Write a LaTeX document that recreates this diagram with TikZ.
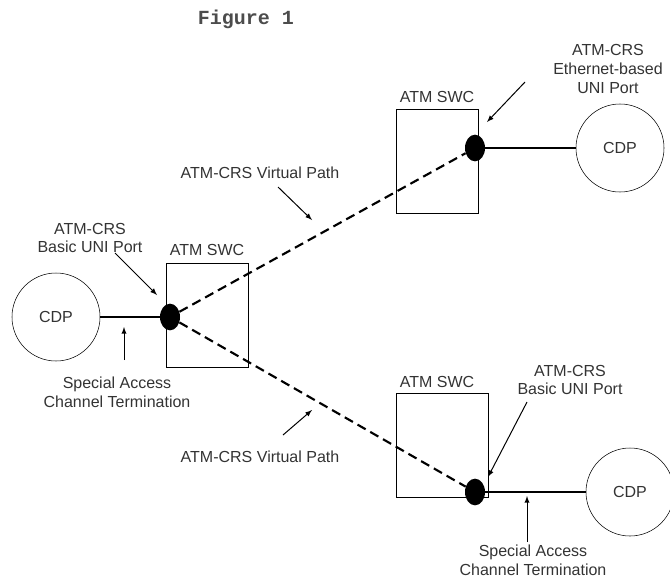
\documentclass[tikz,border=0pt]{standalone}
\usepackage{fontspec}
\setmainfont{Liberation Sans}
\setmonofont{Liberation Mono}
\usetikzlibrary{shapes.geometric}

\begin{document}
\begin{tikzpicture}[x=0.75pt, y=-0.75pt,
  every node/.style={font=\fontsize{12}{14}\selectfont, text=black!80},
  cdp/.style={draw, circle, minimum size=66pt, inner sep=0pt},
  swc/.style={draw, line width=0.6pt, minimum width=62pt, minimum height=78pt},
  port/.style={ellipse, fill=black, minimum width=15pt, minimum height=20pt, inner sep=0pt},
  lbl/.style={align=center},
  link/.style={line width=1.6pt},
  vpath/.style={line width=1.6pt, dash pattern=on 7pt off 4pt},
  callout/.style={-latex, line width=0.75pt}]
  \useasboundingbox (0,0) rectangle (670,582);

  \node[font=\fontsize{15}{17}\selectfont\ttfamily\bfseries, text=black!70] (fig) at (246,19) {Figure 1};

  % switches and their ports
  \node[swc] (swcL) at (207.5,315) {};
  \node[swc] (swcU) at (437.5,161) {};
  \node[swc, minimum width=69pt] (swcD) at (442,445) {};
  \foreach \s/\x/\y in {L/207/250, U/437/97, D/437/382} {
    \node (swc\s txt) at (\x,\y) {ATM SWC};
  }
  \node[port] (portL) at (170,317) {};
  \node[port] (portU) at (475,148) {};
  \node[port] (portD) at (475,492) {};

  % customer sites
  \node[cdp] (cdpL) at (56,317) {CDP};
  \node[cdp] (cdpU) at (620,148) {CDP};
  \node[cdp] (cdpD) at (630,492) {CDP};

  \draw[link] (cdpL) -- (portL);
  \draw[link] (portU) -- (cdpU);
  \draw[link] (portD) -- (cdpD);
  \draw[vpath] (portL) -- (portU);
  \draw[vpath] (portL) -- (portD);

  % labels
  \node[lbl] (uniL) at (90,238) {ATM-CRS\\Basic UNI Port};
  \node[lbl] (uniU) at (608,69) {ATM-CRS\\Ethernet-based\\UNI Port};
  \node[lbl] (uniD) at (570,380) {ATM-CRS\\Basic UNI Port};
  \node[lbl] (sacL) at (117,392) {Special Access\\Channel Termination};
  \node[lbl] (sacD) at (533,560) {Special Access\\Channel Termination};
  \node (vpU) at (260,173) {ATM-CRS Virtual Path};
  \node (vpD) at (260,457) {ATM-CRS Virtual Path};

  % callout arrows
  \coordinate (uniLa) at (115,253);  \coordinate (uniLb) at (157,295);
  \coordinate (uniUa) at (525,82);   \coordinate (uniUb) at (487,122);
  \coordinate (uniDa) at (527,402);  \coordinate (uniDb) at (488,477);
  \coordinate (sacLa) at (124,360);  \coordinate (sacLb) at (124,327);
  \coordinate (sacDa) at (527,542);  \coordinate (sacDb) at (527,496);
  \coordinate (vpUa) at (278,187);   \coordinate (vpUb) at (312,220);
  \coordinate (vpDa) at (283,435);   \coordinate (vpDb) at (312,410);
  \foreach \c in {uniL, uniU, uniD, sacL, sacD, vpU, vpD} {
    \draw[callout] (\c a) -- (\c b);
  }
\end{tikzpicture}
\end{document}
